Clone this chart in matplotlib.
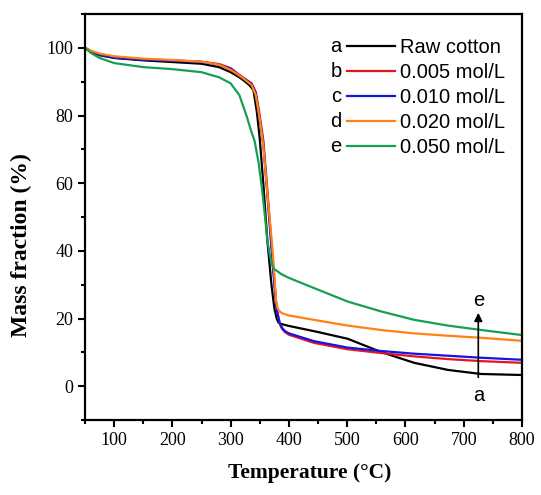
import matplotlib.pyplot as plt
from matplotlib.ticker import MultipleLocator

# TGA curves
temp_a = [50, 60, 75, 100, 150, 200, 250, 280, 300, 315, 325, 332, 339, 345, 350, 356, 363, 370, 375, 379, 382, 386, 400, 450, 501, 558, 615, 673, 730, 800]
mass_a = [100, 98.8, 97.8, 97.0, 96.3, 95.8, 95.3, 94.3, 92.8, 91.3, 90.0, 89.0, 87.5, 81.0, 73.0, 60.0, 43.0, 30.0, 23.0, 20.0, 18.8, 18.4, 17.8, 16.0, 14.0, 10.1, 6.9, 4.8, 3.6, 3.3]

temp_b = [50, 60, 75, 100, 150, 200, 250, 280, 300, 315, 325, 336, 343, 349, 356, 363, 370, 375, 379, 384, 388, 393, 400, 443, 501, 558, 615, 673, 730, 800]
mass_b = [100, 99.0, 98.0, 97.2, 96.6, 96.3, 95.9, 95.2, 94.0, 92.0, 90.8, 89.5, 87.0, 81.0, 72.8, 58.0, 42.0, 31.0, 23.0, 18.5, 17.0, 16.0, 15.2, 12.8, 10.9, 9.8, 8.8, 8.0, 7.4, 6.9]

temp_c = [50, 60, 75, 100, 150, 200, 250, 280, 300, 315, 325, 336, 343, 349, 356, 363, 370, 375, 379, 384, 388, 393, 400, 443, 501, 558, 615, 673, 730, 800]
mass_c = [100, 99.0, 98.0, 97.1, 96.5, 96.2, 95.8, 95.0, 93.8, 91.8, 90.6, 89.3, 86.5, 80.0, 71.5, 56.5, 41.0, 30.0, 22.5, 18.8, 17.3, 16.3, 15.6, 13.3, 11.4, 10.4, 9.6, 9.0, 8.4, 7.8]

temp_d = [50, 60, 75, 100, 150, 200, 250, 280, 300, 315, 325, 336, 343, 349, 356, 363, 371, 375, 378, 381, 386, 391, 400, 443, 501, 558, 615, 673, 730, 800]
mass_d = [100, 99.2, 98.3, 97.5, 96.8, 96.4, 95.9, 95.0, 93.5, 91.8, 90.5, 89.0, 86.0, 80.0, 71.0, 57.0, 42.0, 33.0, 25.0, 22.8, 21.8, 21.4, 20.9, 19.6, 17.9, 16.6, 15.6, 14.9, 14.3, 13.4]

temp_e = [50, 60, 75, 100, 150, 200, 250, 280, 300, 315, 320, 328, 335, 341, 348, 354, 359, 363, 368, 373, 380, 386, 400, 443, 501, 558, 615, 673, 730, 800]
mass_e = [100, 98.5, 97.0, 95.5, 94.3, 93.7, 92.8, 91.3, 89.5, 86.0, 83.5, 79.5, 75.5, 72.5, 66.0, 58.0, 50.0, 43.0, 38.0, 34.8, 34.0, 33.2, 32.0, 29.0, 25.0, 22.1, 19.6, 17.9, 16.6, 15.1]

letters = ["a", "b", "c", "d", "e"]
labels = ["Raw cotton", "0.005 mol/L", "0.010 mol/L", "0.020 mol/L", "0.050 mol/L"]
colors = ["#000000", "#e8141c", "#1414e6", "#ff8214", "#14a050"]

temps = [temp_a, temp_b, temp_c, temp_d, temp_e]
masses = [mass_a, mass_b, mass_c, mass_d, mass_e]

fig = plt.figure(figsize=(5.41, 4.95), dpi=100)
ax = fig.add_axes([85 / 541, 1 - 420 / 495, (522 - 85) / 541, (420 - 14) / 495])

lines = []
for t, m, c, lab in zip(temps, masses, colors, labels):
    ln, = ax.plot(t, m, color=c, linewidth=1.6, label=lab)
    lines.append(ln)

ax.set_xlim(50, 800)
ax.set_ylim(-10, 110)
ax.xaxis.set_minor_locator(MultipleLocator(50))
ax.yaxis.set_minor_locator(MultipleLocator(10))
ax.set_yticks([0, 20, 40, 60, 80, 100])
ax.set_xticks([100, 200, 300, 400, 500, 600, 700, 800])

serif = "Liberation Serif"
ax.tick_params(which="major", direction="out", length=5, width=1.5, labelsize=13)
ax.tick_params(which="minor", direction="out", length=3, width=1.5)
for lab in ax.get_xticklabels() + ax.get_yticklabels():
    lab.set_fontfamily(serif)
for sp in ax.spines.values():
    sp.set_linewidth(1.6)

ax.set_xlabel("Temperature (°C)", fontfamily=serif, fontweight="bold", fontsize=15.5)
ax.xaxis.set_label_coords(0.515, -0.105)
ax.set_ylabel("Mass fraction (%)", fontfamily=serif, fontweight="bold", fontsize=17)
ax.yaxis.set_label_coords(-0.122, 0.43)

leg = ax.legend(handles=lines, loc="upper left", bbox_to_anchor=(0.567, 0.975),
                frameon=False, handlelength=2.4, handletextpad=0.25,
                labelspacing=0.3, borderaxespad=0.3,
                prop={"family": "Liberation Sans", "size": 14.5})

# letters in front of the legend lines
fig.canvas.draw()
inv = ax.transAxes.inverted()
for letter, hl in zip(letters, leg.get_lines()):
    x0, y0 = hl.get_transform().transform((hl.get_xdata()[0], hl.get_ydata()[0]))
    xa, ya = inv.transform((x0 - 11, y0))
    ax.text(xa, ya, letter, transform=ax.transAxes,
            fontfamily="Liberation Sans", fontsize=14.5, ha="center", va="center")

# arrow from a to e
ax.annotate("", xy=(725, 22.5), xytext=(725, 1.8),
            arrowprops=dict(arrowstyle="-|>", color="black", lw=1.2, mutation_scale=12))
ax.text(725, 25.2, "e", fontfamily="Liberation Sans", fontsize=14.5, ha="center", va="center")
ax.text(725, -2.7, "a", fontfamily="Liberation Sans", fontsize=14.5, ha="center", va="center")

fig.savefig("out.png", dpi=100)
